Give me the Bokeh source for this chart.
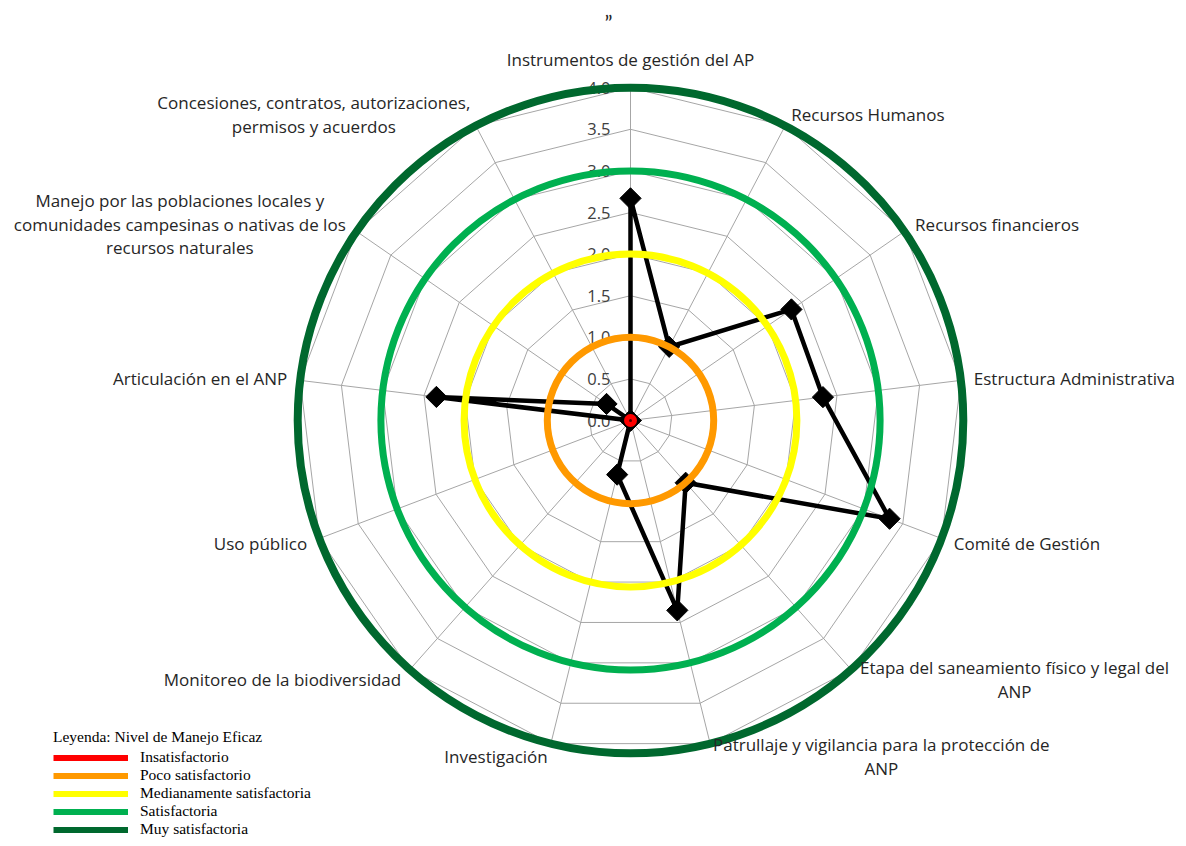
import glob
import numpy as np
from bokeh.plotting import figure
from bokeh.models import ColumnDataSource, Legend, LegendItem, Range1d
from bokeh.core.properties import value
from bokeh.embed import file_html
from bokeh.resources import INLINE

# ---------------- data ----------------
categories = [
    "Instrumentos de gestión del AP",
    "Recursos Humanos",
    "Recursos financieros",
    "Estructura Administrativa",
    "Comité de Gestión",
    "Etapa del saneamiento físico y legal del\nANP",
    "Patrullaje y vigilancia para la protección de\nANP",
    "Investigación",
    "Monitoreo de la biodiversidad",
    "Uso público",
    "Articulación en el ANP",
    "Manejo por las poblaciones locales y\ncomunidades campesinas o nativas de los\nrecursos naturales",
    "Concesiones, contratos, autorizaciones,\npermisos y acuerdos",
]
scores = [2.67, 1.0, 2.35, 2.33, 3.33, 1.0, 2.35, 0.67, 0.0, 0.0, 2.35, 0.35, 0.0]

level_names = ["Insatisfactorio", "Poco satisfactorio", "Medianamente satisfactoria",
               "Satisfactoria", "Muy satisfactoria"]
level_values = [0.0, 1.0, 2.0, 3.0, 4.0]
level_colors = ["#FF0000", "#FF9900", "#FFFF00", "#00B050", "#00682E"]

tick_values = [0.0, 0.5, 1.0, 1.5, 2.0, 2.5, 3.0, 3.5, 4.0]
tick_labels = ["0.0", "0.5", "1.0", "1.5", "2.0", "2.5", "3.0", "3.5", "4.0"]
title_text = "\u201d"
legend_title = "Leyenda: Nivel de Manejo Eficaz"

# ---------------- geometry ----------------
W, H = 1178, 838
PX = 83.2                       # pixels per unit
cx_px, cy_px = 630, 420         # centre in plot pixels (from top-left)
x0 = -cx_px / PX
x1 = (W - cx_px) / PX
y1 = cy_px / PX
y0 = -(H - cy_px) / PX

n = len(categories)
theta = np.arange(n) * 2 * np.pi / n
rmax = max(tick_values)
FONT = "Open Sans"
LABEL_PX = 17

# text width measurement (for centring multi-line labels)
_measure = None
try:
    from PIL import ImageFont
    cands = []
    for pat in ["/usr/share/fonts/**/OpenSans-Regular.ttf", "/usr/share/fonts/**/OpenSans*.ttf",
                "/usr/local/share/fonts/**/OpenSans*.ttf", "/usr/share/fonts/**/Open*Sans*.ttf"]:
        cands += glob.glob(pat, recursive=True)
    cands = [c for c in cands if "Italic" not in c and "Bold" not in c and "Light" not in c
             and "Semi" not in c and "Extra" not in c and "Condensed" not in c] or cands
    if cands:
        _f = ImageFont.truetype(cands[0], LABEL_PX)
        _measure = lambda s: _f.getlength(s)
except Exception:
    _measure = None
if _measure is None:
    _measure = lambda s: len(s) * 8.1

p = figure(width=W, height=H, output_backend="svg", toolbar_location=None,
           x_range=Range1d(x0, x1), y_range=Range1d(y0, y1),
           min_border=0, outline_line_color=None)
p.axis.visible = False
p.grid.visible = False
p.background_fill_color = "white"

# grid polygons
gx, gy = [], []
for lv in tick_values[1:]:
    xs = list(lv * np.sin(theta)) + [lv * np.sin(theta[0])]
    ys = list(lv * np.cos(theta)) + [lv * np.cos(theta[0])]
    gx.append(xs)
    gy.append(ys)
p.multi_line(gx, gy, line_color="#A6A6A6", line_width=1)
# spokes
p.segment(x0=np.zeros(n), y0=np.zeros(n), x1=rmax * np.sin(theta), y1=rmax * np.cos(theta),
          line_color="#A6A6A6", line_width=1)

# tick labels
p.text(x=[-20 / PX] * len(tick_values), y=tick_values, text=tick_labels,
       text_font=value(FONT), text_font_size="16.5px", text_color="#404040",
       text_align="right", text_baseline="middle")

# data series
sx = [s * np.sin(t) for s, t in zip(scores, theta)]
sy = [s * np.cos(t) for s, t in zip(scores, theta)]
p.line(sx + [sx[0]], sy + [sy[0]], line_color="black", line_width=4.5, line_join="miter")
p.scatter(sx, sy, marker="square", size=15, angle=np.pi / 4,
          fill_color="black", line_color="black")

# level rings
for lv, col in zip(level_values[1:], level_colors[1:]):
    lw = 8 if lv == rmax else 7
    p.circle(x=0, y=0, radius=lv, fill_color=None, line_color=col, line_width=lw)
p.scatter([0], [0], marker="circle", size=13, fill_color=level_colors[0], line_color=None)
p.scatter([0], [0], marker="circle", size=3, fill_color="#550000", line_color=None)

# category labels
R = rmax + 13 / PX
lx, ly, ltxt, lalign, lbase, xoff, yoff = [], [], [], [], [], [], []
for i, (c, t) in enumerate(zip(categories, theta)):
    x = R * np.sin(t)
    y = R * np.cos(t)
    lines = c.split("\n")
    s = np.sin(t)
    if i == 0:
        al, bl, xo, yo = "center", "bottom", 0, -4
    elif len(lines) > 1:
        w = max(_measure(l) for l in lines)
        al, bl = "center", "middle"
        xo = w / 2 if s > 0 else -w / 2
        yo = 0
    else:
        al = "left" if s > 0 else "right"
        bl, xo, yo = "middle", 0, 0
    lx.append(x); ly.append(y); ltxt.append(c); lalign.append(al); lbase.append(bl)
    xoff.append(xo); yoff.append(yo)
src = ColumnDataSource(dict(x=lx, y=ly, text=ltxt, align=lalign, base=lbase, xo=xoff, yo=yoff))
p.text(x="x", y="y", text="text", source=src, text_align="align", text_baseline="base",
       x_offset="xo", y_offset="yo", text_font=value(FONT), text_font_size=f"{LABEL_PX}px",
       text_color="#262626", text_line_height=1.04)

# title
p.text(x=[0], y=[y1 - 8 / PX], text=[title_text], x_offset=[-22], text_font=value("Lato"),
       text_font_size="22px", text_color="#262626", text_align="center", text_baseline="top")

# legend (proxy renderers placed outside the visible range)
items = []
for name, col in zip(level_names, level_colors):
    r = p.line([x1 + 1, x1 + 2], [y0 - 1, y0 - 1], line_color=col, line_width=6)
    items.append(LegendItem(label=name, renderers=[r]))
legend = Legend(items=items, location=(53, 0), title=legend_title,
                title_text_font="Liberation Serif", title_text_font_size="15.5px",
                title_text_font_style="normal", title_text_color="black", title_standoff=2,
                label_text_font="Liberation Serif", label_text_font_size="15.5px",
                label_text_color="black", glyph_width=75, glyph_height=17, label_height=17,
                label_standoff=12, spacing=0, padding=0, margin=0,
                border_line_color=None, background_fill_alpha=0)
p.add_layout(legend)

open("out.html", "w").write(file_html(p, INLINE))
